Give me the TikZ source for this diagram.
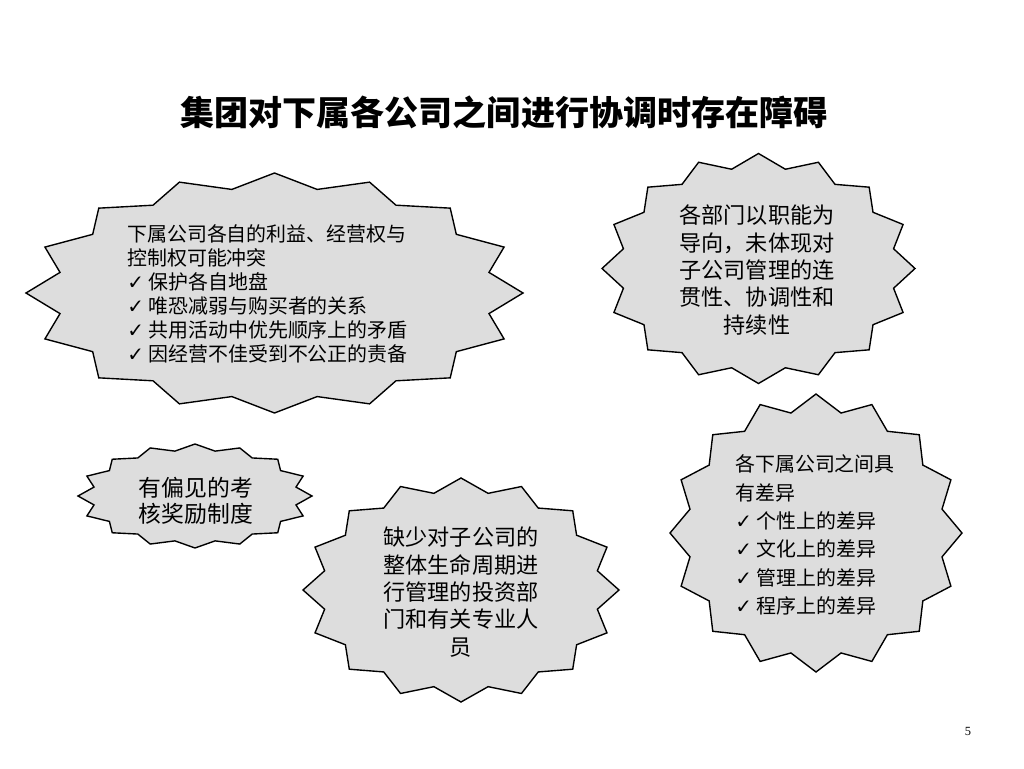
\documentclass[tikz,border=0pt]{standalone}
\usepackage{fontspec}
\usepackage{tikz}
\setmainfont{Liberation Serif}
\newfontfamily\cjk{Noto Sans CJK SC}
\newfontfamily\symb{DejaVu Sans}
\definecolor{gristoile}{HTML}{DDDDDD}
\definecolor{traitnoir}{HTML}{000000}
\newcommand{\chk}{{\symb ✓}\ }
% etoile a 16 pointes : centre x, centre y, rayon x, rayon y
\newcommand{\burst}[4]{%
  \draw[etoile] plot[variable=\t,samples=33,domain=90:450]
    ({#1+#3*(0.94+0.06*cos(16*(\t-90)))*cos(\t)},
     {#2+#4*(0.94+0.06*cos(16*(\t-90)))*sin(\t)}) -- cycle;}

\begin{document}
\begin{tikzpicture}[x=0.01in,y=0.01in,
  etoile/.style={draw=traitnoir,fill=gristoile,line width=1pt,line join=miter},
  txt/.style={inner sep=0pt,align=center,font=\cjk\fontsize{16pt}{19.8pt}\selectfont},
  lst/.style={inner sep=0pt,align=left,anchor=west,font=\cjk\fontsize{14.4pt}{17.3pt}\selectfont}]
  \useasboundingbox (0,0) rectangle (1024,768);
  \node[font=\cjk\bfseries\fontsize{24.6pt}{28pt}\selectfont] (t) at (504,656) {集团对下属各公司之间进行协调时存在障碍};
  \burst{274.5}{475}{248.5}{120}
  \burst{758.5}{499.5}{156.5}{115}
  \burst{816}{235}{146}{139}
  \burst{195}{272}{117}{52}
  \burst{461}{178}{158}{112}
  \node[lst] (a) at (127,474) {下属公司各自的利益、经营权与\\控制权可能冲突\\\chk 保护各自地盘\\\chk 唯恐减弱与购买者的关系\\\chk 共用活动中优先顺序上的矛盾\\\chk 因经营不佳受到不公正的责备};
  \node[txt] (b) at (757,498) {各部门以职能为\\导向，未体现对\\子公司管理的连\\贯性、协调性和\\持续性};
  \node[lst,font=\cjk\fontsize{14.4pt}{20.5pt}\selectfont] (c) at (735,233) {各下属公司之间具\\有差异\\\chk 个性上的差异\\\chk 文化上的差异\\\chk 管理上的差异\\\chk 程序上的差异};
  \node[txt,font=\cjk\fontsize{16.5pt}{18.8pt}\selectfont] (d) at (196,267) {有偏见的考\\核奖励制度};
  \node[txt] (e) at (461,176) {缺少对子公司的\\整体生命周期进\\行管理的投资部\\门和有关专业人\\员};
  \node[font=\fontsize{9pt}{10pt}\selectfont] (p) at (968,37) {5};
\end{tikzpicture}
\end{document}
